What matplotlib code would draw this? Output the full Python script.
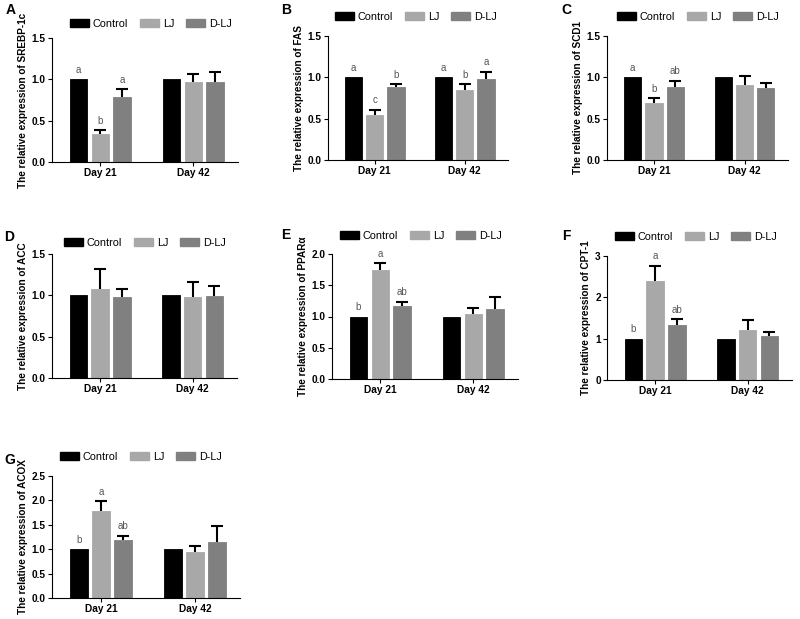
import numpy as np
import matplotlib
matplotlib.use("Agg")
import matplotlib.pyplot as plt
from matplotlib.patches import Patch

plt.rcParams['font.family'] = ['Liberation Sans', 'DejaVu Sans']

days = ['Day 21', 'Day 42']
groups = ['Control', 'LJ', 'D-LJ']
colors = ['#000000', '#a8a8a8', '#808080']

genes = ['SREBP-1c', 'FAS', 'SCD1', 'ACC', 'PPARα', 'CPT-1', 'ACOX']
panel_ids = ['A', 'B', 'C', 'D', 'E', 'F', 'G']

# mean values per gene: [Control, LJ, D-LJ] x [Day 21, Day 42]
srebp_vals = [[1.0, 1.0], [0.34, 0.97], [0.79, 0.97]]
srebp_err = [[0, 0], [0.05, 0.10], [0.09, 0.12]]
srebp_let = [['a', ''], ['b', ''], ['a', '']]

fas_vals = [[1.0, 1.0], [0.55, 0.85], [0.88, 0.98]]
fas_err = [[0, 0], [0.06, 0.07], [0.04, 0.09]]
fas_let = [['a', 'a'], ['c', 'b'], ['b', 'a']]

scd_vals = [[1.0, 1.0], [0.69, 0.91], [0.88, 0.875]]
scd_err = [[0, 0], [0.06, 0.11], [0.08, 0.06]]
scd_let = [['a', ''], ['b', ''], ['ab', '']]

acc_vals = [[1.0, 1.0], [1.08, 0.98], [0.98, 0.99]]
acc_err = [[0, 0], [0.24, 0.18], [0.10, 0.12]]
acc_let = [['', ''], ['', ''], ['', '']]

ppar_vals = [[1.0, 1.0], [1.75, 1.04], [1.17, 1.12]]
ppar_err = [[0, 0], [0.11, 0.10], [0.07, 0.20]]
ppar_let = [['b', ''], ['a', ''], ['ab', '']]

cpt_vals = [[1.0, 1.0], [2.40, 1.22], [1.33, 1.06]]
cpt_err = [[0, 0], [0.37, 0.23], [0.15, 0.11]]
cpt_let = [['b', ''], ['a', ''], ['ab', '']]

acox_vals = [[1.0, 1.0], [1.79, 0.94], [1.18, 1.14]]
acox_err = [[0, 0], [0.19, 0.12], [0.10, 0.34]]
acox_let = [['b', ''], ['a', ''], ['ab', '']]

all_vals = [srebp_vals, fas_vals, scd_vals, acc_vals, ppar_vals, cpt_vals, acox_vals]
all_err = [srebp_err, fas_err, scd_err, acc_err, ppar_err, cpt_err, acox_err]
all_let = [srebp_let, fas_let, scd_let, acc_let, ppar_let, cpt_let, acox_let]
yticks = [[0, 0.5, 1.0, 1.5]] * 4 + [[0, 0.5, 1.0, 1.5, 2.0], [0, 1, 2, 3],
                                     [0, 0.5, 1.0, 1.5, 2.0, 2.5]]

W, H = 800, 619
fig = plt.figure(figsize=(8, 6.19), dpi=100)

# axes boxes in pixels: left, right, top, bottom
boxes = [(52, 238, 38, 162), (328, 508, 36, 160), (607, 788, 36, 160),
         (52, 237, 254, 378), (332, 518, 254, 379), (607, 792, 256, 380),
         (52, 240, 476, 598)]
letter_pos = [(6, 10), (281, 10), (561, 10), (4, 237), (281, 235), (562, 236), (4, 460)]
legend_pos = [(151, 24), (416, 17), (698, 17), (145, 243), (421, 236), (696, 237), (141, 457)]

x = np.arange(len(days))
bw = 0.19
step = 0.235

for i in range(len(genes)):
    l, r, t, b = boxes[i]
    ax = fig.add_axes([l / W, (H - b) / H, (r - l) / W, (b - t) / H])
    for g in range(3):
        pos = x + (g - 1) * step
        vals = np.array(all_vals[i][g])
        errs = np.array(all_err[i][g])
        ax.bar(pos, vals, bw, color=colors[g], edgecolor=colors[g], linewidth=0.6, zorder=2)
        # upper error bars only
        m = errs > 0
        if m.any():
            ax.vlines(pos[m], vals[m], vals[m] + errs[m], color='black', linewidth=1.5, zorder=3)
            ax.plot(pos[m], vals[m] + errs[m], linestyle='none', marker='_',
                    markersize=8, markeredgewidth=1.5, color='black', zorder=3)
        for k in range(2):
            if all_let[i][g][k]:
                ax.annotate(all_let[i][g][k], (pos[k], vals[k] + errs[k]),
                            xytext=(0, 3), textcoords='offset points',
                            ha='center', va='bottom', fontsize=7, color='#555555')
    ax.set_xlim(-0.52, 1.48)
    ax.set_ylim(0, yticks[i][-1])
    ax.set_yticks(yticks[i])
    if i == 5:
        ax.set_yticklabels([str(v) for v in yticks[i]])
    else:
        ax.set_yticklabels(['%.1f' % v for v in yticks[i]])
    ax.set_xticks(x)
    ax.set_xticklabels(days)
    ax.tick_params(labelsize=7.3, width=0.8, length=3, pad=1.5)
    for lab in ax.get_xticklabels() + ax.get_yticklabels():
        lab.set_fontweight('bold')
    ax.spines['top'].set_visible(False)
    ax.spines['right'].set_visible(False)
    ax.spines['left'].set_linewidth(0.8)
    ax.spines['bottom'].set_linewidth(0.8)
    ax.set_ylabel('The relative expression of ' + genes[i], fontsize=7.2,
                  fontweight='bold', labelpad=3)

    handles = [Patch(facecolor=c, edgecolor=c) for c in colors]
    lx, ly = legend_pos[i]
    fig.legend(handles, groups, loc='center', bbox_to_anchor=(lx / W, 1 - ly / H),
               ncol=3, frameon=False, fontsize=7.8, handlelength=1.7,
               handleheight=0.8, columnspacing=1.1, handletextpad=0.4)

    px, py = letter_pos[i]
    fig.text(px / W, 1 - py / H, panel_ids[i], fontsize=10, fontweight='bold',
             ha='left', va='center')

fig.savefig('out.png', dpi=100, facecolor='white')
